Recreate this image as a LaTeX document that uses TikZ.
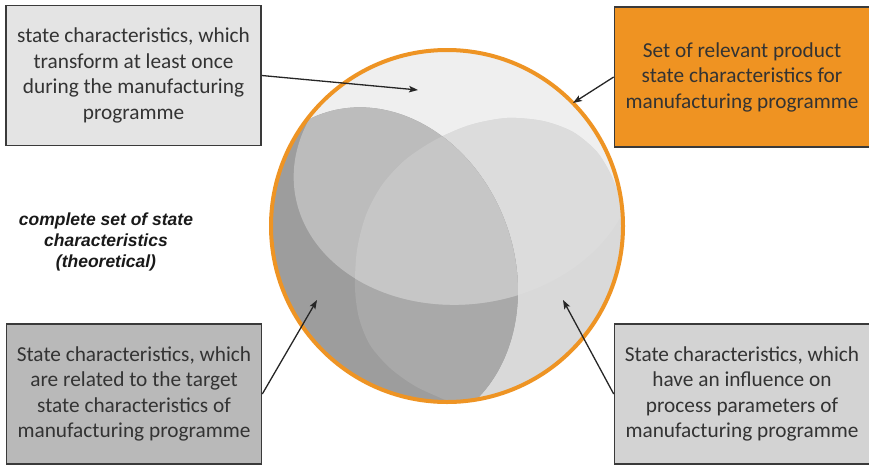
\documentclass[tikz,border=0pt]{standalone}
\usepackage{fontspec}
\setmainfont{Carlito}
\newfontfamily\notefont{Liberation Sans}
\usetikzlibrary{arrows.meta}

\definecolor{boxline}{HTML}{3A3A3A}
\definecolor{boxtext}{HTML}{333333}
\definecolor{lightbox}{HTML}{E4E4E4}
\definecolor{darkbox}{HTML}{B9B9B9}
\definecolor{midbox}{HTML}{D3D3D3}
\definecolor{orangebox}{HTML}{EF9322}
\definecolor{ring}{HTML}{EE9424}
\definecolor{sphere}{HTML}{EFEFEF}
\definecolor{hlow}{HTML}{D9D9D9}
\definecolor{hup}{HTML}{DCDCDC}
\definecolor{slow}{HTML}{9D9D9D}
\definecolor{shlow}{HTML}{A9A9A9}
\definecolor{sup}{HTML}{BCBCBC}
\definecolor{shup}{HTML}{C6C6C6}

% outlines of the overlapping sets; whatever lies outside the sphere is clipped
\def\sphere{(447,226) circle [radius=176pt]}
% tilted ellipse on the left (steep, running down to the right)
\def\setS{plot[domain=0:360,samples=180,variable=\t]
  ({378+57.59*cos(\t)-127.55*sin(\t)},{270+155.69*cos(\t)+47.18*sin(\t)}) -- cycle}
% wide ellipse covering the upper part of the sphere
\def\setG{plot[domain=0:360,samples=180,variable=\t]
  ({465+170.3*cos(\t)+18.93*sin(\t)},{168-23.94*cos(\t)+134.7*sin(\t)}) -- cycle}
% egg-shaped set on the right
\def\setH{plot[smooth] coordinates {(470,412) (445,400) (415,386) (390,368) (370,345)
  (359,318) (355,288) (357,250) (366,215) (382,185) (405,160) (435,140) (470,125)
  (507,118) (543,121) (573,132) (597,152) (612,177) (622,205) (630,235)}
  -- (700,235) -- (700,480) -- (470,480) -- cycle}

\begin{document}
\begin{tikzpicture}[x=1pt,y=-1pt,
  infobox/.style={draw=boxline, line width=1.6pt, align=center, text=boxtext,
    font=\fontsize{21.3}{25.5}\selectfont, minimum width=255pt, minimum height=140pt,
    inner sep=0pt},
  pointer/.style={draw=black!85, line width=1.3pt,
    -{Stealth[length=9pt,width=6.5pt,inset=2pt]}}]
\useasboundingbox (0,0) rectangle (869,466);

% sphere with its shaded regions
\begin{scope}
  \clip \sphere;
  \fill[sphere] \sphere;
  \fill[hlow] \setH;
  \begin{scope}
    \clip \setG;
    \fill[hup] \setH;
  \end{scope}
  \fill[slow] \setS;
  \begin{scope}
    \clip \setH;
    \fill[shlow] \setS;
  \end{scope}
  \begin{scope}
    \clip \setG;
    \fill[sup] \setS;
    \clip \setH;
    \fill[shup] \setS;
  \end{scope}
\end{scope}
\draw[ring, line width=4pt] \sphere;

% boxes
\node[infobox, fill=lightbox] (transform) at (133.5,75.5)
  {state characteristics, which\\transform at least once\\during the manufacturing\\programme};
\node[infobox, fill=orangebox] (relevant) at (742,77)
  {Set of relevant product\\state characteristics for\\manufacturing programme};
\node[infobox, fill=darkbox] (target) at (134,394)
  {State characteristics, which\\are related to the target\\state characteristics of\\manufacturing programme};
\node[infobox, fill=midbox] (process) at (742,394)
  {State characteristics, which\\have an influence on\\process parameters of\\manufacturing programme};

\node[align=center, font=\notefont\bfseries\itshape\fontsize{17.5}{21}\selectfont, text=black!90]
  (complete) at (106,242) {complete set of state\\characteristics\\(theoretical)};

% pointers into the sphere
\coordinate (tipTransform) at (418,90);
\coordinate (tipRelevant) at (573,103);
\coordinate (tipTarget) at (317,300);
\coordinate (tipProcess) at (563,300);
\draw[pointer] (transform.east) -- (tipTransform);
\draw[pointer] (relevant.west) -- (tipRelevant);
\draw[pointer] (target.east) -- (tipTarget);
\draw[pointer] (process.west) -- (tipProcess);
\end{tikzpicture}
\end{document}
